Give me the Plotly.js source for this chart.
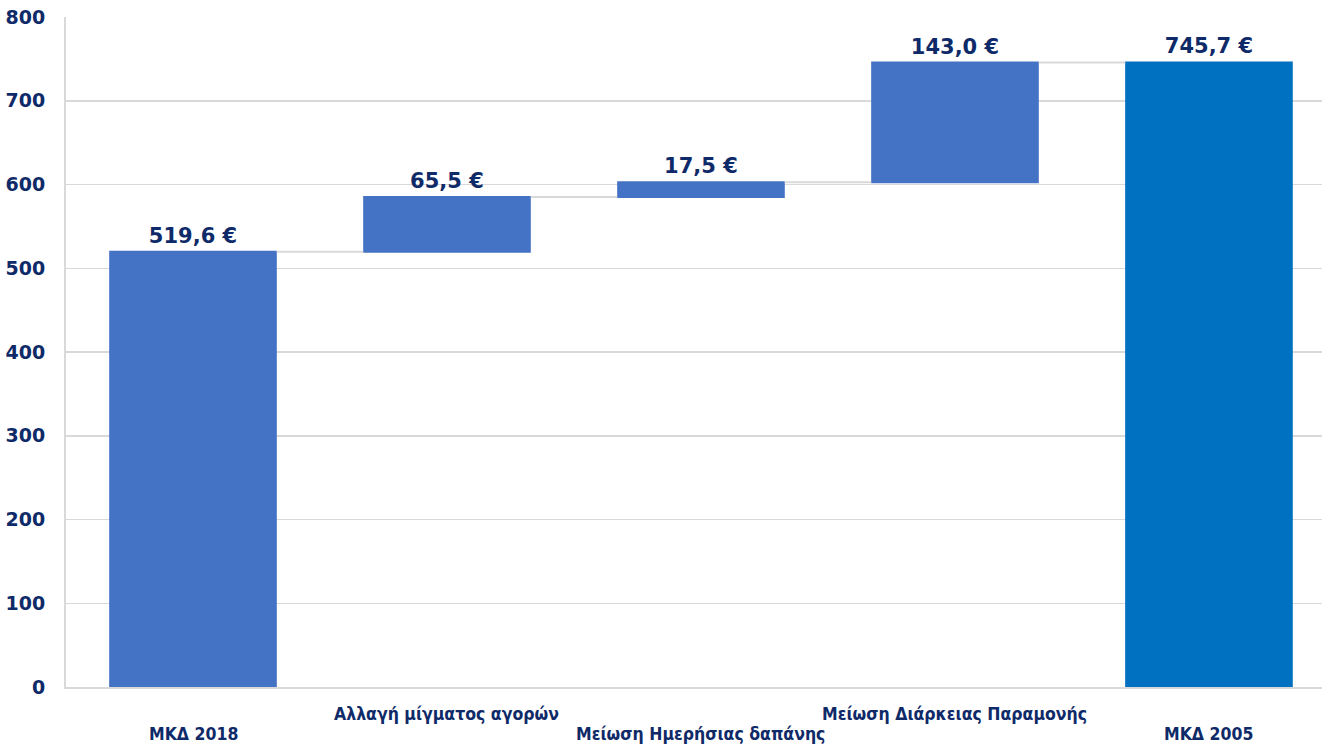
<!DOCTYPE html>
<html>
<head>
<meta charset="utf-8">
<script src="https://cdn.plot.ly/plotly-3.0.1.min.js"></script>
<style>html,body{margin:0;padding:0;background:#fff;}#chart{width:1322px;height:744px;}</style>
</head>
<body>
<div id="chart"></div>
<script>
const categories = ["ΜΚΔ 2018", "Αλλαγή μίγματος αγορών", "Μείωση Ημερήσιας δαπάνης", "Μείωση Διάρκειας Παραμονής", "ΜΚΔ 2005"];
const values = [519.6, 65.5, 17.5, 143.0, 745.7];
const measures = ["relative", "relative", "relative", "relative", "absolute"];
const valueLabels = ["519,6 €", "65,5 €", "17,5 €", "143,0 €", "745,7 €"];
const labelRows = [1, 0, 1, 0, 1];
const yTicks = [0, 100, 200, 300, 400, 500, 600, 700, 800];

const navy = "#0f2a68";

const trace = {
  type: "waterfall",
  x: categories,
  y: values,
  measure: measures,
  text: valueLabels,
  textposition: "outside",
  textfont: {family: "DejaVu Sans", size: 21, color: navy, weight: "bold"},
  cliponaxis: false,
  increasing: {marker: {color: "#4472c4"}},
  decreasing: {marker: {color: "#4472c4"}},
  totals: {marker: {color: "#0070c0"}},
  connector: {mode: "between", line: {color: "#d9d9d9", width: 2}},
  hoverinfo: "skip"
};

const annotations = categories.map((c, i) => ({
  x: c, xref: "x", y: 0, yref: "paper",
  text: "<b>" + c + "</b>",
  showarrow: false,
  yanchor: "middle",
  yshift: labelRows[i] ? -47 : -27,
  font: {family: "DejaVu Sans Condensed", size: 17.5, color: navy}
}));

const layout = {
  width: 1322, height: 744,
  margin: {l: 66, r: 0, t: 17, b: 57},
  paper_bgcolor: "#fff", plot_bgcolor: "#fff",
  showlegend: false,
  waterfallgap: 0.34,
  xaxis: {
    type: "category",
    range: [-0.5, 4.445],
    showticklabels: false,
    showgrid: false,
    showline: true, linecolor: "#d9d9d9", linewidth: 2,
    zeroline: false
  },
  yaxis: {
    range: [0, 800],
    tickvals: yTicks,
    ticktext: yTicks.map(String),
    showgrid: true, gridcolor: "#d9d9d9", gridwidth: 1.5,
    showline: true, linecolor: "#d9d9d9", linewidth: 2,
    zeroline: false,
    ticks: "",
    ticklabelstandoff: 15,
    tickfont: {family: "DejaVu Sans", size: 19, color: navy, weight: "bold"}
  },
  annotations: annotations
};

Plotly.newPlot("chart", [trace], layout, {displayModeBar: false, staticPlot: true});
</script>
</body>
</html>
